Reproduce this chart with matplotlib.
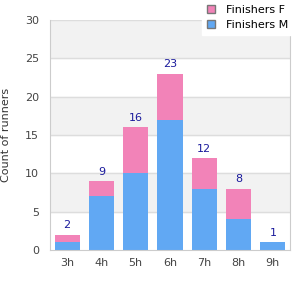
import matplotlib.pyplot as plt
import numpy as np

categories = ['3h', '4h', '5h', '6h', '7h', '8h', '9h']
finishers_m = [1, 7, 10, 17, 8, 4, 1]
finishers_f = [1, 2, 6, 6, 4, 4, 0]

fig = plt.figure(figsize=(3, 3), dpi=100)
ax = fig.add_axes([50 / 300, 50 / 300, 240 / 300, 230 / 300])

# alternating background bands
for lo in (5, 15, 25):
    ax.axhspan(lo, lo + 5, color='#f2f2f2', zorder=0)
for y in range(5, 31, 5):
    ax.axhline(y, color='#dddddd', lw=1, zorder=0.5)

x = np.arange(len(categories))
ax.bar(x, finishers_m, width=0.73, color='#61a8f3', label='Finishers M', zorder=2)
ax.bar(x, finishers_f, width=0.73, bottom=finishers_m, color='#f283b8',
       label='Finishers F', zorder=2)

totals = [m + f for m, f in zip(finishers_m, finishers_f)]
for xi, t in zip(x, totals):
    ax.text(xi, t + 0.55, str(t), ha='center', va='bottom', color='#1a1a9c', fontsize=8)

ax.set_xlim(-0.5, len(categories) - 0.5)
ax.set_ylim(0, 30)
ax.set_yticks(range(0, 31, 5))
ax.set_xticks(x)
ax.set_xticklabels(categories)
ax.tick_params(length=0, colors='#444444', labelsize=8)
ax.tick_params(axis='y', pad=8)
ax.tick_params(axis='x', pad=6)
for s in ('left', 'bottom', 'right'):
    ax.spines[s].set_color('#cccccc')
ax.spines['top'].set_visible(False)
ax.set_ylabel('Count of runners', fontsize=8, color='#333333', labelpad=10)

h, l = ax.get_legend_handles_labels()
leg = fig.legend(h[::-1], l[::-1], loc='upper left', bbox_to_anchor=(202 / 300, 1.0),
                 fontsize=8, frameon=True, fancybox=False, borderaxespad=0,
                 borderpad=0.45, handlelength=0.75, handleheight=0.75,
                 handletextpad=1.0, labelspacing=0.45)
leg.get_frame().set_edgecolor('white')
leg.get_frame().set_alpha(1)
for p in leg.get_patches():
    p.set_edgecolor('#777777')

fig.savefig('out.png', dpi=100)
